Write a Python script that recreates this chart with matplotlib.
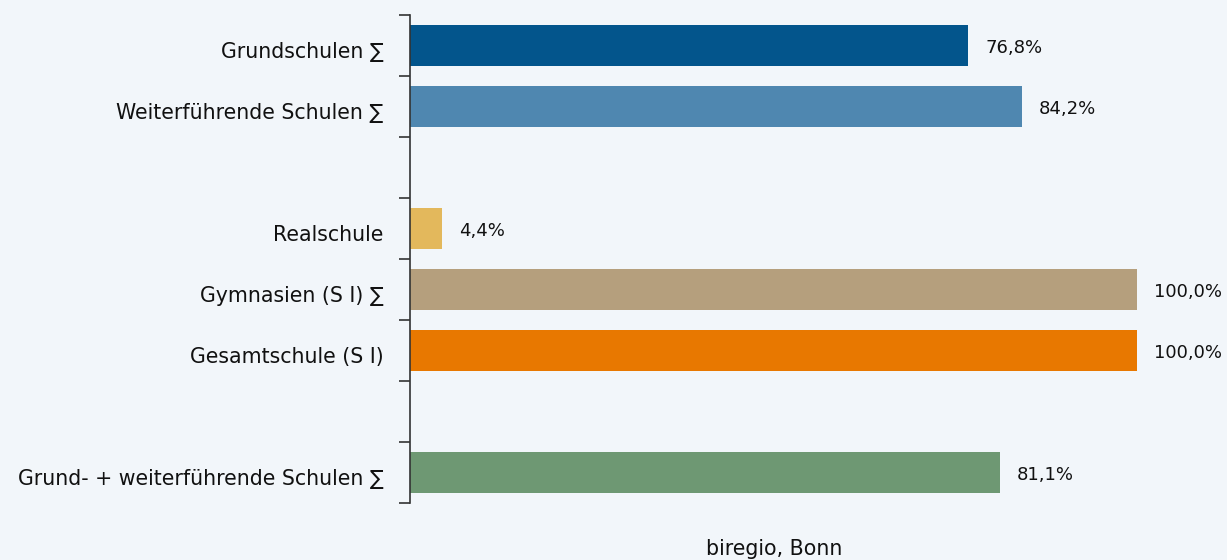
import matplotlib.pyplot as plt
import matplotlib.transforms as mtransforms
import numpy as np

plt.rcParams['font.family'] = ['DejaVu Sans']

# Daten (leere Einträge = Lücken im Diagramm)
kategorien = ['Grundschulen ∑', 'Weiterführende Schulen ∑', '',
              'Realschule', 'Gymnasien (S I) ∑', 'Gesamtschule (S I)', '',
              'Grund- + weiterführende Schulen ∑']
werte = [76.8, 84.2, np.nan, 4.4, 100.0, 100.0, np.nan, 81.1]
farben = ['#03558c', '#4f87b0', 'none', '#e3b85c', '#b59f7d', '#e87800',
          'none', '#6e9873']
quelle = 'biregio, Bonn'

bg = '#f2f6fa'
fig = plt.figure(figsize=(12.27, 5.6), dpi=100, facecolor=bg)
ax = fig.add_axes([410/1227, 1-503/560, 727/1227, 488/560], facecolor=bg)

pos = np.arange(len(kategorien))
ax.barh(pos, np.nan_to_num(werte), height=0.67, color=farben)

for p, v in zip(pos, werte):
    if np.isnan(v):
        continue
    ax.annotate(f'{v:.1f}%'.replace('.', ','), (v, p), xytext=(12, -2),
                textcoords='offset points', va='center', ha='left',
                fontsize=13, color='#111111')

ax.set_xlim(0, 100)
ax.set_ylim(len(kategorien)-0.5, -0.5)

# Striche an den Grenzen, Beschriftung in der Mitte
ax.set_yticks(np.arange(-0.5, len(kategorien)))
ax.set_yticklabels([])
ax.tick_params(axis='y', which='major', length=8, width=1.2, color='#333333')
ax.set_yticks(pos, minor=True)
ax.set_yticklabels(kategorien, minor=True, fontsize=14.8, color='#111111')
ax.tick_params(axis='y', which='minor', length=0, pad=19)
ax.set_xticks([])
verschiebung = mtransforms.ScaledTranslation(0, -3/72, fig.dpi_scale_trans)
for lab in ax.get_yticklabels(minor=True):
    lab.set_transform(lab.get_transform() + verschiebung)

for s in ['top', 'right', 'bottom']:
    ax.spines[s].set_visible(False)
ax.spines['left'].set_color('#333333')
ax.spines['left'].set_linewidth(1.2)

fig.text(774/1227, 1-549/560, quelle, ha='center', va='center',
         fontsize=14.8, color='#111111')

fig.savefig('out.png', dpi=100, facecolor=bg)
